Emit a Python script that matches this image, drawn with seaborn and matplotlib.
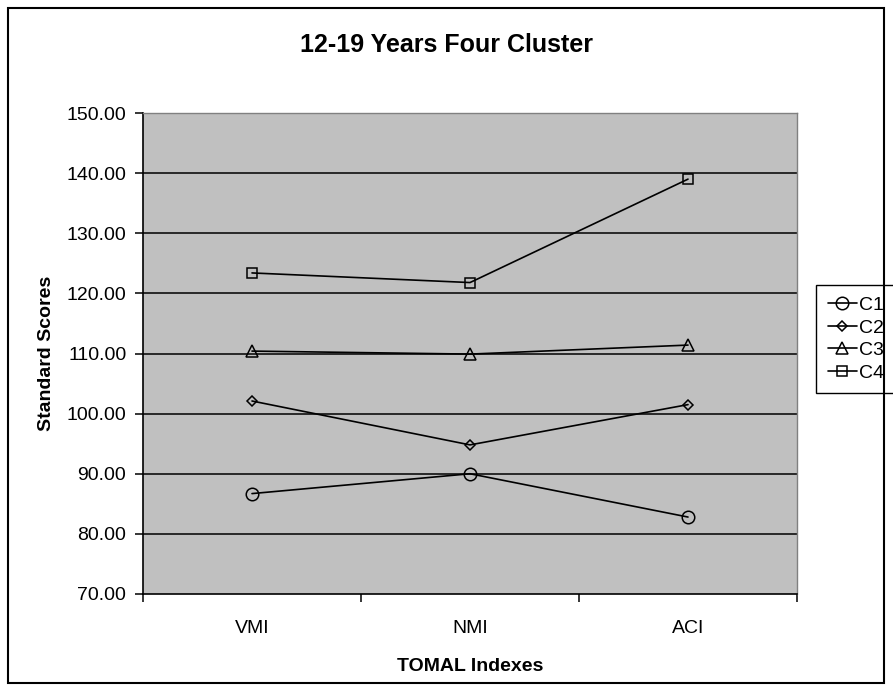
import matplotlib
matplotlib.use("Agg")
import matplotlib.pyplot as plt
import seaborn as sns
import pandas as pd
from matplotlib.patches import Rectangle
from matplotlib.ticker import FixedLocator, FormatStrFormatter

categories = ["VMI", "NMI", "ACI"]
series_names = ["C1", "C2", "C3", "C4"]
c1 = [86.7, 90.0, 82.8]
c2 = [102.1, 94.8, 101.5]
c3 = [110.4, 109.9, 111.4]
c4 = [123.4, 121.8, 139.0]
y_ticks = [70, 80, 90, 100, 110, 120, 130, 140, 150]
markers = ["o", "D", "^", "s"]
msizes = [9, 5.5, 8, 6.5]

sns.set_theme(style="white")
plt.rcParams["font.family"] = ["Liberation Sans", "DejaVu Sans"]

fig = plt.figure(figsize=(8.93, 6.91), dpi=100)
ax = fig.add_axes([143 / 893, 1 - 594 / 691, (797 - 143) / 893, (594 - 113) / 691])
ax.set_facecolor("#C0C0C0")

for name, vals, mk, ms in zip(series_names, [c1, c2, c3, c4], markers, msizes):
    df = pd.DataFrame({"x": categories, "y": vals})
    sns.lineplot(data=df, x="x", y="y", ax=ax, color="black", linewidth=1.2,
                 marker=mk, markersize=ms, markerfacecolor="none",
                 markeredgecolor="black", markeredgewidth=1.1, label=name,
                 sort=False, legend=False)

ax.set_xlim(-0.5, 2.5)
ax.set_ylim(70, 150)
ax.yaxis.set_major_locator(FixedLocator(y_ticks))
ax.yaxis.set_major_formatter(FormatStrFormatter("%.2f"))
for y in y_ticks[1:-1]:
    ax.axhline(y, color="black", linewidth=1.1, zorder=1)

ax.set_xticks([-0.5, 0.5, 1.5, 2.5])
ax.set_xticklabels([])
ax.set_xticks([0, 1, 2], minor=True)
ax.set_xticklabels(categories, minor=True)
ax.tick_params(axis="x", which="major", direction="out", length=6, width=1.1, color="black", bottom=True)
ax.tick_params(axis="x", which="minor", length=0, labelsize=14, pad=19, colors="black")
ax.tick_params(axis="y", which="major", direction="out", length=6, width=1.1, color="black",
               left=True, labelsize=14, pad=6, labelcolor="black")

for side in ["left", "bottom"]:
    ax.spines[side].set_color("black")
    ax.spines[side].set_linewidth(1.2)
for side in ["top", "right"]:
    ax.spines[side].set_color("#808080")
    ax.spines[side].set_linewidth(1.0)

ax.set_xlabel("TOMAL Indexes", fontsize=14, fontweight="bold", color="black", labelpad=15)
ax.set_ylabel("Standard Scores", fontsize=14, fontweight="bold", color="black", labelpad=8)
ax.grid(False)

fig.text(0.5, 1 - 45 / 691, "12-19 Years Four Cluster", ha="center", va="center",
         fontsize=18, fontweight="bold", color="black")

leg = ax.legend(loc="upper left", bbox_to_anchor=(816 / 893, 1 - 285 / 691),
                bbox_transform=fig.transFigure, fontsize=14, frameon=True,
                fancybox=False, edgecolor="black", facecolor="white", framealpha=1,
                handlelength=1.5, handletextpad=0.1, labelspacing=0.25, borderpad=0.6,
                borderaxespad=0)
leg.get_frame().set_linewidth(1.0)
for t in leg.get_texts():
    t.set_color("black")

fig.patches.append(Rectangle((8 / 893, 8 / 691), (884 - 8) / 893, (683 - 8) / 691,
                             transform=fig.transFigure, fill=False, edgecolor="black",
                             linewidth=1.5, zorder=0))

fig.savefig("out.png", dpi=100, facecolor="white")
